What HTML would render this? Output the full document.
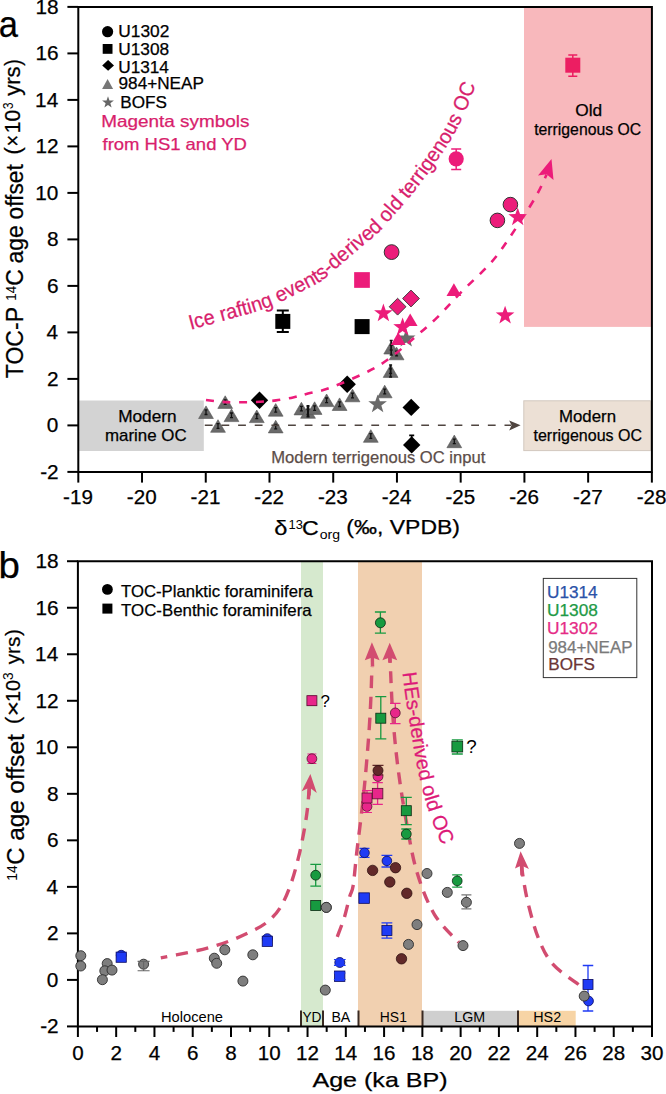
<!DOCTYPE html>
<html><head><meta charset="utf-8"><style>
html,body{margin:0;padding:0;background:#fff;overflow:hidden;}
svg{display:block;}
text{font-family:"Liberation Sans",sans-serif;stroke-width:0.25px;paint-order:stroke;}
</style></head><body>
<svg width="666" height="1094" viewBox="0 0 666 1094">
<rect width="666" height="1094" fill="#fff"/>
<rect x="524" y="6.9" width="127.9" height="320" fill="#F8B8BC"/>
<rect x="79.2" y="400.5" width="124.6" height="50.5" fill="#D3D3D3"/>
<rect x="523.8" y="400.8" width="126.7" height="49.8" fill="#ECE0D5" stroke="#D2C8BE" stroke-width="1"/>
<text x="271.23" y="462.5" font-size="16.5" fill="#5C4D48" textLength="214.11" lengthAdjust="spacingAndGlyphs" stroke="#5C4D48">Modern terrigenous OC input</text>
<polygon points="206,405.9 213.4,418.5 198.6,418.5" fill="#6a6a6a" stroke="#555" stroke-width="0.6"/>
<path d="M206,409.9V414.5M204.5,409.9H207.5M204.5,414.5H207.5" stroke="#111" stroke-width="1.3" fill="none"/>
<polygon points="225.2,395.8 232.6,408.4 217.8,408.4" fill="#6a6a6a" stroke="#555" stroke-width="0.6"/>
<path d="M225.2,399.8V404.4M223.7,399.8H226.7M223.7,404.4H226.7" stroke="#111" stroke-width="1.3" fill="none"/>
<polygon points="218,419.7 225.4,432.3 210.6,432.3" fill="#6a6a6a" stroke="#555" stroke-width="0.6"/>
<path d="M218,423.7V428.3M216.5,423.7H219.5M216.5,428.3H219.5" stroke="#111" stroke-width="1.3" fill="none"/>
<polygon points="231.5,409 238.9,421.6 224.1,421.6" fill="#6a6a6a" stroke="#555" stroke-width="0.6"/>
<path d="M231.5,413V417.6M230,413H233M230,417.6H233" stroke="#111" stroke-width="1.3" fill="none"/>
<polygon points="256.8,410 264.2,422.6 249.4,422.6" fill="#6a6a6a" stroke="#555" stroke-width="0.6"/>
<path d="M256.8,414V418.6M255.3,414H258.3M255.3,418.6H258.3" stroke="#111" stroke-width="1.3" fill="none"/>
<polygon points="275.7,403.6 283.1,416.2 268.3,416.2" fill="#6a6a6a" stroke="#555" stroke-width="0.6"/>
<path d="M275.7,407.6V412.2M274.2,407.6H277.2M274.2,412.2H277.2" stroke="#111" stroke-width="1.3" fill="none"/>
<polygon points="275.7,420.3 283.1,432.9 268.3,432.9" fill="#6a6a6a" stroke="#555" stroke-width="0.6"/>
<path d="M275.7,424.3V428.9M274.2,424.3H277.2M274.2,428.9H277.2" stroke="#111" stroke-width="1.3" fill="none"/>
<polygon points="301.4,402.3 308.8,414.9 294,414.9" fill="#6a6a6a" stroke="#555" stroke-width="0.6"/>
<path d="M301.4,406.3V410.9M299.9,406.3H302.9M299.9,410.9H302.9" stroke="#111" stroke-width="1.3" fill="none"/>
<polygon points="308,405.7 315.4,418.3 300.6,418.3" fill="#6a6a6a" stroke="#555" stroke-width="0.6"/>
<path d="M308,409.7V414.3M306.5,409.7H309.5M306.5,414.3H309.5" stroke="#111" stroke-width="1.3" fill="none"/>
<polygon points="314.6,401.8 322,414.4 307.2,414.4" fill="#6a6a6a" stroke="#555" stroke-width="0.6"/>
<path d="M314.6,405.8V410.4M313.1,405.8H316.1M313.1,410.4H316.1" stroke="#111" stroke-width="1.3" fill="none"/>
<polygon points="326.6,394 334,406.6 319.2,406.6" fill="#6a6a6a" stroke="#555" stroke-width="0.6"/>
<path d="M326.6,398V402.6M325.1,398H328.1M325.1,402.6H328.1" stroke="#111" stroke-width="1.3" fill="none"/>
<polygon points="339.6,397.9 347,410.5 332.2,410.5" fill="#6a6a6a" stroke="#555" stroke-width="0.6"/>
<path d="M339.6,401.9V406.5M338.1,401.9H341.1M338.1,406.5H341.1" stroke="#111" stroke-width="1.3" fill="none"/>
<polygon points="352.5,389.2 359.9,401.8 345.1,401.8" fill="#6a6a6a" stroke="#555" stroke-width="0.6"/>
<path d="M352.5,393.2V397.8M351,393.2H354M351,397.8H354" stroke="#111" stroke-width="1.3" fill="none"/>
<polygon points="370.8,429.7 378.2,442.3 363.4,442.3" fill="#6a6a6a" stroke="#555" stroke-width="0.6"/>
<path d="M370.8,433.7V438.3M369.3,433.7H372.3M369.3,438.3H372.3" stroke="#111" stroke-width="1.3" fill="none"/>
<polygon points="384.7,385.2 392.1,397.8 377.3,397.8" fill="#6a6a6a" stroke="#555" stroke-width="0.6"/>
<path d="M384.7,389.2V393.8M383.2,389.2H386.2M383.2,393.8H386.2" stroke="#111" stroke-width="1.3" fill="none"/>
<polygon points="390.6,364.8 398,377.4 383.2,377.4" fill="#6a6a6a" stroke="#555" stroke-width="0.6"/>
<path d="M390.6,368.8V373.4M389.1,368.8H392.1M389.1,373.4H392.1" stroke="#111" stroke-width="1.3" fill="none"/>
<polygon points="391.2,341.4 398.6,354 383.8,354" fill="#6a6a6a" stroke="#555" stroke-width="0.6"/>
<path d="M391.2,345.4V350M389.7,345.4H392.7M389.7,350H392.7" stroke="#111" stroke-width="1.3" fill="none"/>
<polygon points="396.6,347.2 404,359.8 389.2,359.8" fill="#6a6a6a" stroke="#555" stroke-width="0.6"/>
<path d="M396.6,351.2V355.8M395.1,351.2H398.1M395.1,355.8H398.1" stroke="#111" stroke-width="1.3" fill="none"/>
<polygon points="454.3,435.1 461.7,447.7 446.9,447.7" fill="#6a6a6a" stroke="#555" stroke-width="0.6"/>
<path d="M454.3,439.1V443.7M452.8,439.1H455.8M452.8,443.7H455.8" stroke="#111" stroke-width="1.3" fill="none"/>
<path d="M308,406V416.5M306.5,406H309.5M306.5,416.5H309.5" stroke="#111" stroke-width="2" fill="none"/>
<path d="M390.6,365V377M389.1,365H392.1M389.1,377H392.1" stroke="#111" stroke-width="1.6" fill="none"/>
<path d="M391.2,340.5V355M389.7,340.5H392.7M389.7,355H392.7" stroke="#111" stroke-width="1.6" fill="none"/>
<polygon points="406.2,328.8 408.5,335.43 415.52,335.57 409.93,339.81 411.96,346.53 406.2,342.52 400.44,346.53 402.47,339.81 396.88,335.57 403.9,335.43" fill="#6a6a6a" stroke="none" stroke-width="1"/>
<polygon points="377.6,394.5 379.9,401.13 386.92,401.27 381.33,405.51 383.36,412.23 377.6,408.22 371.84,412.23 373.87,405.51 368.28,401.27 375.3,401.13" fill="#6a6a6a" stroke="none" stroke-width="1"/>
<polygon points="259.5,391.6 268.2,400.3 259.5,409 250.8,400.3" fill="#000" stroke="none" stroke-width="1"/>
<polygon points="347.2,375.6 355.9,384.3 347.2,393 338.5,384.3" fill="#000" stroke="none" stroke-width="1"/>
<polygon points="411.2,398.7 419.9,407.4 411.2,416.1 402.5,407.4" fill="#000" stroke="none" stroke-width="1"/>
<polygon points="411.7,436.2 420.4,444.9 411.7,453.6 403,444.9" fill="#000" stroke="none" stroke-width="1"/>
<path d="M411.7,435.4V444.9M409.2,435.4H414.2M409.2,444.9H414.2" stroke="#000" stroke-width="1.6" fill="none"/>
<path d="M282.8,310.6V332M276.8,310.6H288.8M276.8,332H288.8" stroke="#000" stroke-width="2" fill="none"/>
<rect x="275.3" y="313.9" width="15" height="15" fill="#000" stroke="none" stroke-width="1"/>
<rect x="354.6" y="319.1" width="15" height="15" fill="#000" stroke="none" stroke-width="1"/>
<rect x="354.15" y="272.15" width="15.7" height="15.7" fill="#EC1C7A" stroke="none" stroke-width="1"/>
<path d="M572.8,55V76.2M568.3,55H577.3M568.3,76.2H577.3" stroke="#EC1E62" stroke-width="1.5" fill="none"/>
<rect x="565.3" y="57.7" width="15" height="15" fill="#EC1E62" stroke="none" stroke-width="1"/>
<circle cx="391.6" cy="252.1" r="7.4" fill="#EC1C7A" stroke="#333" stroke-width="1"/>
<path d="M456.2,148.9V169.5M451.2,148.9H461.2M451.2,169.5H461.2" stroke="#EC1C7A" stroke-width="1.5" fill="none"/>
<circle cx="456.2" cy="158.8" r="7.6" fill="#EC1C7A" stroke="none" stroke-width="1"/>
<circle cx="510.4" cy="204.6" r="7.3" fill="#EC1C7A" stroke="#333" stroke-width="1"/>
<circle cx="497.4" cy="220.4" r="7.3" fill="#EC1C7A" stroke="#333" stroke-width="1"/>
<polygon points="397.6,298.3 406,306.7 397.6,315.1 389.2,306.7" fill="#EC1C7A" stroke="#333" stroke-width="0.9"/>
<polygon points="411,290.1 419.4,298.5 411,306.9 402.6,298.5" fill="#EC1C7A" stroke="#333" stroke-width="0.9"/>
<polygon points="453.9,283.3 461.3,295.9 446.5,295.9" fill="#EC1C7A" stroke="none" stroke-width="1"/>
<polygon points="410.2,313.4 417.6,326 402.8,326" fill="#EC1C7A" stroke="none" stroke-width="1"/>
<polygon points="398.2,332.3 405.6,344.9 390.8,344.9" fill="#EC1C7A" stroke="none" stroke-width="1"/>
<polygon points="383.4,303.5 385.7,310.13 392.72,310.27 387.13,314.51 389.16,321.23 383.4,317.22 377.64,321.23 379.67,314.51 374.08,310.27 381.1,310.13" fill="#EC1C7A" stroke="none" stroke-width="1"/>
<polygon points="402.6,317.4 404.9,324.03 411.92,324.17 406.33,328.41 408.36,335.13 402.6,331.12 396.84,335.13 398.87,328.41 393.28,324.17 400.3,324.03" fill="#EC1C7A" stroke="none" stroke-width="1"/>
<polygon points="517.7,207.4 520,214.03 527.02,214.17 521.43,218.41 523.46,225.13 517.7,221.12 511.94,225.13 513.97,218.41 508.38,214.17 515.4,214.03" fill="#EC1C7A" stroke="none" stroke-width="1"/>
<polygon points="505.1,305.7 507.4,312.33 514.42,312.47 508.83,316.71 510.86,323.43 505.1,319.42 499.34,323.43 501.37,316.71 495.78,312.47 502.8,312.33" fill="#EC1C7A" stroke="none" stroke-width="1"/>
<path d="M204.8,425.3H511" stroke="#4f4540" stroke-width="1.6" stroke-dasharray="7.8,8.85" fill="none"/>
<polygon points="520.6,425.3 509.2,420.6 511.5,425.3 509.2,430.4" fill="#4f4540"/>
<path d="M206,400 C208.67,400.3 216.33,401.42 222,401.8 C227.67,402.18 233.67,402.3 240,402.3 C246.33,402.3 254,402.12 260,401.8 C266,401.48 270.5,401.12 276,400.4 C281.5,399.68 287.67,398.65 293,397.5 C298.33,396.35 301.9,395.08 308,393.5 C314.1,391.92 319.6,391.67 329.6,388 C339.6,384.33 357.93,376.5 368,371.5 C378.07,366.5 382.33,363.58 390,358 C397.67,352.42 406.17,344.73 414,338 C421.83,331.27 429.17,325.2 437,317.6 C444.83,310 451.88,301.7 461,292.4 C470.12,283.1 483.2,271.53 491.7,261.8 C500.2,252.07 504.73,244.72 512,234 C519.27,223.28 529.53,207.42 535.3,197.5 C541.07,187.58 544.72,178.33 546.6,174.5" stroke="#EC1C7A" stroke-width="2.6" stroke-dasharray="8,8.63" fill="none"/>
<polygon points="551.5,159 538,175.6 546.6,174.2 553.5,180.1" fill="#EC1C7A"/>
<path d="M78.3,6.9H651.9V471.9H78.3Z" fill="none" stroke="#000" stroke-width="2"/>
<line x1="67.4" y1="471.9" x2="78.3" y2="471.9" stroke="#000" stroke-width="2"/>
<line x1="67.4" y1="425.4" x2="78.3" y2="425.4" stroke="#000" stroke-width="2"/>
<line x1="67.4" y1="378.9" x2="78.3" y2="378.9" stroke="#000" stroke-width="2"/>
<line x1="67.4" y1="332.4" x2="78.3" y2="332.4" stroke="#000" stroke-width="2"/>
<line x1="67.4" y1="285.9" x2="78.3" y2="285.9" stroke="#000" stroke-width="2"/>
<line x1="67.4" y1="239.4" x2="78.3" y2="239.4" stroke="#000" stroke-width="2"/>
<line x1="67.4" y1="192.9" x2="78.3" y2="192.9" stroke="#000" stroke-width="2"/>
<line x1="67.4" y1="146.4" x2="78.3" y2="146.4" stroke="#000" stroke-width="2"/>
<line x1="67.4" y1="99.9" x2="78.3" y2="99.9" stroke="#000" stroke-width="2"/>
<line x1="67.4" y1="53.4" x2="78.3" y2="53.4" stroke="#000" stroke-width="2"/>
<line x1="67.4" y1="6.9" x2="78.3" y2="6.9" stroke="#000" stroke-width="2"/>
<line x1="78.3" y1="471.9" x2="78.3" y2="482.6" stroke="#000" stroke-width="2"/>
<line x1="142.03" y1="471.9" x2="142.03" y2="482.6" stroke="#000" stroke-width="2"/>
<line x1="205.76" y1="471.9" x2="205.76" y2="482.6" stroke="#000" stroke-width="2"/>
<line x1="269.49" y1="471.9" x2="269.49" y2="482.6" stroke="#000" stroke-width="2"/>
<line x1="333.22" y1="471.9" x2="333.22" y2="482.6" stroke="#000" stroke-width="2"/>
<line x1="396.95" y1="471.9" x2="396.95" y2="482.6" stroke="#000" stroke-width="2"/>
<line x1="460.68" y1="471.9" x2="460.68" y2="482.6" stroke="#000" stroke-width="2"/>
<line x1="524.41" y1="471.9" x2="524.41" y2="482.6" stroke="#000" stroke-width="2"/>
<line x1="588.14" y1="471.9" x2="588.14" y2="482.6" stroke="#000" stroke-width="2"/>
<line x1="651.87" y1="471.9" x2="651.87" y2="482.6" stroke="#000" stroke-width="2"/>
<text x="40.18" y="478.9" font-size="20" textLength="18.49" lengthAdjust="spacingAndGlyphs" stroke="#000">-2</text>
<text x="46.84" y="432.4" font-size="20" textLength="11.57" lengthAdjust="spacingAndGlyphs" stroke="#000">0</text>
<text x="47.1" y="385.9" font-size="20" textLength="11.57" lengthAdjust="spacingAndGlyphs" stroke="#000">2</text>
<text x="46.63" y="339.4" font-size="20" textLength="11.57" lengthAdjust="spacingAndGlyphs" stroke="#000">4</text>
<text x="46.94" y="292.9" font-size="20" textLength="11.57" lengthAdjust="spacingAndGlyphs" stroke="#000">6</text>
<text x="46.94" y="246.4" font-size="20" textLength="11.57" lengthAdjust="spacingAndGlyphs" stroke="#000">8</text>
<text x="35.29" y="199.9" font-size="20" textLength="23.14" lengthAdjust="spacingAndGlyphs" stroke="#000">10</text>
<text x="35.55" y="153.4" font-size="20" textLength="23.14" lengthAdjust="spacingAndGlyphs" stroke="#000">12</text>
<text x="35.08" y="106.9" font-size="20" textLength="23.14" lengthAdjust="spacingAndGlyphs" stroke="#000">14</text>
<text x="35.4" y="60.4" font-size="20" textLength="23.14" lengthAdjust="spacingAndGlyphs" stroke="#000">16</text>
<text x="35.4" y="13.9" font-size="20" textLength="23.14" lengthAdjust="spacingAndGlyphs" stroke="#000">18</text>
<text x="63.11" y="504.4" font-size="20" textLength="29.77" lengthAdjust="spacingAndGlyphs" stroke="#000">-19</text>
<text x="126.84" y="504.4" font-size="20" textLength="29.77" lengthAdjust="spacingAndGlyphs" stroke="#000">-20</text>
<text x="190.57" y="504.4" font-size="20" textLength="29.77" lengthAdjust="spacingAndGlyphs" stroke="#000">-21</text>
<text x="254.3" y="504.4" font-size="20" textLength="29.77" lengthAdjust="spacingAndGlyphs" stroke="#000">-22</text>
<text x="318.03" y="504.4" font-size="20" textLength="29.77" lengthAdjust="spacingAndGlyphs" stroke="#000">-23</text>
<text x="381.76" y="504.4" font-size="20" textLength="29.77" lengthAdjust="spacingAndGlyphs" stroke="#000">-24</text>
<text x="445.49" y="504.4" font-size="20" textLength="29.77" lengthAdjust="spacingAndGlyphs" stroke="#000">-25</text>
<text x="509.22" y="504.4" font-size="20" textLength="29.77" lengthAdjust="spacingAndGlyphs" stroke="#000">-26</text>
<text x="572.95" y="504.4" font-size="20" textLength="29.77" lengthAdjust="spacingAndGlyphs" stroke="#000">-27</text>
<text x="636.68" y="504.4" font-size="20" textLength="29.77" lengthAdjust="spacingAndGlyphs" stroke="#000">-28</text>
<text x="-1.27" y="36.6" font-size="37.8" fill="#000" textLength="19.22" lengthAdjust="spacingAndGlyphs" stroke="#000">a</text>
<text transform="translate(22.9,378.22) rotate(-90)" font-size="23" fill="#000" textLength="71.24" lengthAdjust="spacingAndGlyphs" stroke="#000">TOC-P</text>
<text transform="translate(16.1,300.69) rotate(-90)" font-size="14" fill="#000" textLength="14.68" lengthAdjust="spacingAndGlyphs">14</text>
<text transform="translate(22.9,285.75) rotate(-90)" font-size="23" fill="#000" textLength="16.6" lengthAdjust="spacingAndGlyphs" stroke="#000">C</text>
<text transform="translate(22.9,263.47) rotate(-90)" font-size="23" fill="#000" textLength="38.17" lengthAdjust="spacingAndGlyphs" stroke="#000">age</text>
<text transform="translate(22.9,219.47) rotate(-90)" font-size="23" fill="#000" textLength="55.25" lengthAdjust="spacingAndGlyphs" stroke="#000">offset</text>
<text transform="translate(19.9,154.64) rotate(-90)" font-size="21.5" fill="#000" textLength="7.67" lengthAdjust="spacingAndGlyphs" stroke="#000">(</text>
<text transform="translate(19.9,146.48) rotate(-90)" font-size="21.5" fill="#000" textLength="11.55" lengthAdjust="spacingAndGlyphs" stroke="#000">×</text>
<text transform="translate(19.9,133.17) rotate(-90)" font-size="21.5" fill="#000" textLength="23.31" lengthAdjust="spacingAndGlyphs" stroke="#000">10</text>
<text transform="translate(13.2,109.37) rotate(-90)" font-size="14.5" fill="#000" textLength="6.91" lengthAdjust="spacingAndGlyphs">3</text>
<text transform="translate(19.9,95.86) rotate(-90)" font-size="21.5" fill="#000" textLength="29.54" lengthAdjust="spacingAndGlyphs" stroke="#000">yrs</text>
<text transform="translate(19.9,65.74) rotate(-90)" font-size="21.5" fill="#000" textLength="6.41" lengthAdjust="spacingAndGlyphs" stroke="#000">)</text>
<text x="274.29" y="534.6" font-size="21" fill="#000" textLength="13.19" lengthAdjust="spacingAndGlyphs" stroke="#000">δ</text>
<text x="288.53" y="529.2" font-size="12.5" fill="#000" textLength="14.35" lengthAdjust="spacingAndGlyphs">13</text>
<text x="302.14" y="534.6" font-size="21" fill="#000" textLength="16.72" lengthAdjust="spacingAndGlyphs" stroke="#000">C</text>
<text x="319.7" y="538.8" font-size="13" fill="#000" textLength="20.28" lengthAdjust="spacingAndGlyphs">org</text>
<text x="346.36" y="534.4" font-size="20.5" fill="#000" textLength="113.61" lengthAdjust="spacingAndGlyphs" stroke="#000">(‰, VPDB)</text>
<circle cx="107.6" cy="31.7" r="5.6" fill="#000" stroke="none" stroke-width="1"/>
<rect x="102.7" y="44" width="9.8" height="9.8" fill="#000" stroke="none" stroke-width="1"/>
<polygon points="108.1,60.1 114,65.4 108.1,70.7 102.2,65.4" fill="#000" stroke="none" stroke-width="1"/>
<polygon points="107.6,79 113.1,89 102.1,89" fill="#777" stroke="none" stroke-width="1"/>
<polygon points="108,96.2 109.46,100.39 113.9,100.48 110.36,103.17 111.64,107.42 108,104.88 104.36,107.42 105.64,103.17 102.1,100.48 106.54,100.39" fill="#666" stroke="none" stroke-width="1"/>
<text x="118.26" y="37.4" font-size="16" fill="#000" textLength="51.04" lengthAdjust="spacingAndGlyphs" stroke="#000">U1302</text>
<text x="118.26" y="55.2" font-size="16" fill="#000" textLength="50.91" lengthAdjust="spacingAndGlyphs" stroke="#000">U1308</text>
<text x="118.27" y="72.7" font-size="16" fill="#000" textLength="50.64" lengthAdjust="spacingAndGlyphs" stroke="#000">U1314</text>
<text x="118.59" y="89.2" font-size="16" fill="#000" textLength="85.33" lengthAdjust="spacingAndGlyphs" stroke="#000">984+NEAP</text>
<text x="120.39" y="107.8" font-size="16" fill="#000" textLength="46.58" lengthAdjust="spacingAndGlyphs" stroke="#000">BOFS</text>
<text x="101.24" y="126.9" font-size="16.5" fill="#D81E6C" textLength="148.21" lengthAdjust="spacingAndGlyphs" stroke="#D81E6C">Magenta symbols</text>
<text x="102.52" y="149.6" font-size="16.5" fill="#D81E6C" textLength="144.33" lengthAdjust="spacingAndGlyphs" stroke="#D81E6C">from HS1 and YD</text>
<text x="118.18" y="421.5" font-size="16.2" fill="#000" textLength="58.41" lengthAdjust="spacingAndGlyphs" stroke="#000">Modern</text>
<text x="104.96" y="441.1" font-size="16.2" fill="#000" textLength="81.67" lengthAdjust="spacingAndGlyphs" stroke="#000">marine OC</text>
<text x="559.01" y="421.5" font-size="16.2" fill="#000" textLength="57.05" lengthAdjust="spacingAndGlyphs" stroke="#000">Modern</text>
<text x="533.46" y="441.1" font-size="16.2" fill="#000" textLength="108.62" lengthAdjust="spacingAndGlyphs" stroke="#000">terrigenous OC</text>
<text x="575.28" y="116" font-size="16.2" fill="#000" textLength="26.92" lengthAdjust="spacingAndGlyphs" stroke="#000">Old</text>
<text x="534.16" y="134.5" font-size="16.2" fill="#000" textLength="107" lengthAdjust="spacingAndGlyphs" stroke="#000">terrigenous OC</text>
<path id="ca" d="M189.5,330 C196.35,328.13 217.73,322.47 230.6,318.8 C243.47,315.13 255.38,312.3 266.7,308 C278.02,303.7 289.53,297.42 298.5,293 C307.47,288.58 313.5,286.17 320.5,281.5 C327.5,276.83 333.2,271.17 340.5,265 C347.8,258.83 357.75,250.12 364.3,244.5 C370.85,238.88 374.6,236.47 379.8,231.3 C385,226.13 390.22,219.55 395.5,213.5 C400.78,207.45 405.25,202.83 411.5,195 C417.75,187.17 426.5,175.58 433,166.5 C439.5,157.42 445.87,148 450.5,140.5 C455.13,133 457.97,127.17 460.8,121.5 C463.63,115.83 465.2,112 467.5,106.5 C469.8,101 472.52,93.92 474.6,88.5 C476.68,83.08 479.1,76.42 480,74" fill="none"/>
<text font-size="20.6" fill="#D81E6C" stroke="#D81E6C"><textPath href="#ca" startOffset="1.3" textLength="393" lengthAdjust="spacingAndGlyphs">Ice rafting events-derived old terrigenous OC</textPath></text>
<rect x="301" y="561.2" width="22" height="465.2" fill="#D6E9CE"/>
<rect x="358" y="561.2" width="64" height="465.2" fill="#F1D0B0"/>
<rect x="422" y="1010.8" width="96" height="15.5" fill="#CFCFCF"/>
<rect x="518" y="1010.8" width="57.7" height="15.5" fill="#F7D4A5"/>
<line x1="301" y1="1010.5" x2="301" y2="1026.5" stroke="#3a2a22" stroke-width="2"/>
<line x1="323" y1="1010.5" x2="323" y2="1026.5" stroke="#3a2a22" stroke-width="2"/>
<line x1="358.5" y1="1010.5" x2="358.5" y2="1026.5" stroke="#3a2a22" stroke-width="2"/>
<line x1="422.5" y1="1010.5" x2="422.5" y2="1026.5" stroke="#3a2a22" stroke-width="2"/>
<line x1="518" y1="1010.5" x2="518" y2="1026.5" stroke="#3a2a22" stroke-width="2"/>
<path d="M77.9,561.2H652V1026.4H77.9Z" fill="none" stroke="#000" stroke-width="2"/>
<line x1="67" y1="1026.42" x2="77.9" y2="1026.42" stroke="#000" stroke-width="2"/>
<line x1="67" y1="979.9" x2="77.9" y2="979.9" stroke="#000" stroke-width="2"/>
<line x1="67" y1="933.38" x2="77.9" y2="933.38" stroke="#000" stroke-width="2"/>
<line x1="67" y1="886.86" x2="77.9" y2="886.86" stroke="#000" stroke-width="2"/>
<line x1="67" y1="840.34" x2="77.9" y2="840.34" stroke="#000" stroke-width="2"/>
<line x1="67" y1="793.82" x2="77.9" y2="793.82" stroke="#000" stroke-width="2"/>
<line x1="67" y1="747.3" x2="77.9" y2="747.3" stroke="#000" stroke-width="2"/>
<line x1="67" y1="700.78" x2="77.9" y2="700.78" stroke="#000" stroke-width="2"/>
<line x1="67" y1="654.26" x2="77.9" y2="654.26" stroke="#000" stroke-width="2"/>
<line x1="67" y1="607.74" x2="77.9" y2="607.74" stroke="#000" stroke-width="2"/>
<line x1="67" y1="561.22" x2="77.9" y2="561.22" stroke="#000" stroke-width="2"/>
<line x1="77.9" y1="1026.4" x2="77.9" y2="1037" stroke="#000" stroke-width="2"/>
<line x1="97.04" y1="1026.4" x2="97.04" y2="1031.9" stroke="#000" stroke-width="2"/>
<line x1="116.17" y1="1026.4" x2="116.17" y2="1037" stroke="#000" stroke-width="2"/>
<line x1="135.31" y1="1026.4" x2="135.31" y2="1031.9" stroke="#000" stroke-width="2"/>
<line x1="154.45" y1="1026.4" x2="154.45" y2="1037" stroke="#000" stroke-width="2"/>
<line x1="173.59" y1="1026.4" x2="173.59" y2="1031.9" stroke="#000" stroke-width="2"/>
<line x1="192.72" y1="1026.4" x2="192.72" y2="1037" stroke="#000" stroke-width="2"/>
<line x1="211.86" y1="1026.4" x2="211.86" y2="1031.9" stroke="#000" stroke-width="2"/>
<line x1="231" y1="1026.4" x2="231" y2="1037" stroke="#000" stroke-width="2"/>
<line x1="250.13" y1="1026.4" x2="250.13" y2="1031.9" stroke="#000" stroke-width="2"/>
<line x1="269.27" y1="1026.4" x2="269.27" y2="1037" stroke="#000" stroke-width="2"/>
<line x1="288.41" y1="1026.4" x2="288.41" y2="1031.9" stroke="#000" stroke-width="2"/>
<line x1="307.54" y1="1026.4" x2="307.54" y2="1037" stroke="#000" stroke-width="2"/>
<line x1="326.68" y1="1026.4" x2="326.68" y2="1031.9" stroke="#000" stroke-width="2"/>
<line x1="345.82" y1="1026.4" x2="345.82" y2="1037" stroke="#000" stroke-width="2"/>
<line x1="364.96" y1="1026.4" x2="364.96" y2="1031.9" stroke="#000" stroke-width="2"/>
<line x1="384.09" y1="1026.4" x2="384.09" y2="1037" stroke="#000" stroke-width="2"/>
<line x1="403.23" y1="1026.4" x2="403.23" y2="1031.9" stroke="#000" stroke-width="2"/>
<line x1="422.37" y1="1026.4" x2="422.37" y2="1037" stroke="#000" stroke-width="2"/>
<line x1="441.5" y1="1026.4" x2="441.5" y2="1031.9" stroke="#000" stroke-width="2"/>
<line x1="460.64" y1="1026.4" x2="460.64" y2="1037" stroke="#000" stroke-width="2"/>
<line x1="479.78" y1="1026.4" x2="479.78" y2="1031.9" stroke="#000" stroke-width="2"/>
<line x1="498.91" y1="1026.4" x2="498.91" y2="1037" stroke="#000" stroke-width="2"/>
<line x1="518.05" y1="1026.4" x2="518.05" y2="1031.9" stroke="#000" stroke-width="2"/>
<line x1="537.19" y1="1026.4" x2="537.19" y2="1037" stroke="#000" stroke-width="2"/>
<line x1="556.33" y1="1026.4" x2="556.33" y2="1031.9" stroke="#000" stroke-width="2"/>
<line x1="575.46" y1="1026.4" x2="575.46" y2="1037" stroke="#000" stroke-width="2"/>
<line x1="594.6" y1="1026.4" x2="594.6" y2="1031.9" stroke="#000" stroke-width="2"/>
<line x1="613.74" y1="1026.4" x2="613.74" y2="1037" stroke="#000" stroke-width="2"/>
<line x1="632.87" y1="1026.4" x2="632.87" y2="1031.9" stroke="#000" stroke-width="2"/>
<line x1="652.01" y1="1026.4" x2="652.01" y2="1037" stroke="#000" stroke-width="2"/>
<circle cx="121.2" cy="955.2" r="4.9" fill="#1F3BF5" stroke="#0a0a60" stroke-width="0.8"/>
<rect x="116.1" y="952.1" width="10.2" height="10.2" fill="#1F3BF5" stroke="#0a0a60" stroke-width="0.8"/>
<circle cx="267.3" cy="938.6" r="4.9" fill="#1F3BF5" stroke="#0a0a60" stroke-width="0.8"/>
<rect x="262.2" y="936.2" width="10.2" height="10.2" fill="#1F3BF5" stroke="#0a0a60" stroke-width="0.8"/>
<circle cx="339.8" cy="962.5" r="5" fill="#1F3BF5" stroke="#0a0a60" stroke-width="0.8"/>
<path d="M339.8,959.5V965.4M333.95,959.5H345.65M333.95,965.4H345.65" stroke="#1F3BF5" stroke-width="1.2" fill="none"/>
<rect x="334.5" y="971" width="10.4" height="10.4" fill="#1F3BF5" stroke="#0a0a60" stroke-width="0.8"/>
<path d="M339.7,973V979.5M333.85,973H345.55M333.85,979.5H345.55" stroke="#1F3BF5" stroke-width="1.2" fill="none"/>
<path d="M364.5,848.4V857.4M359.5,848.4H369.5M359.5,857.4H369.5" stroke="#1F3BF5" stroke-width="1.3" fill="none"/>
<circle cx="364.5" cy="852.8" r="4.8" fill="#1F3BF5" stroke="#0a0a60" stroke-width="0.8"/>
<path d="M386.9,855.4V867M381.5,855.4H392.3M381.5,867H392.3" stroke="#1F3BF5" stroke-width="1.3" fill="none"/>
<circle cx="386.9" cy="860.9" r="4.8" fill="#1F3BF5" stroke="#0a0a60" stroke-width="0.8"/>
<rect x="358.85" y="892.85" width="10.5" height="10.5" fill="#1F3BF5" stroke="#0a0a60" stroke-width="0.8"/>
<path d="M386.9,922.8V938.2M381.5,922.8H392.3M381.5,938.2H392.3" stroke="#1F3BF5" stroke-width="1.3" fill="none"/>
<rect x="381.9" y="925.6" width="10" height="10" fill="#1F3BF5" stroke="#0a0a60" stroke-width="0.8"/>
<path d="M588,965.5V1011M582.75,965.5H593.25M582.75,1011H593.25" stroke="#1F3BF5" stroke-width="1.3" fill="none"/>
<rect x="583" y="979.4" width="10" height="10" fill="#1F3BF5" stroke="#0a0a60" stroke-width="0.8"/>
<circle cx="588.5" cy="1001" r="4.9" fill="#1F3BF5" stroke="#0a0a60" stroke-width="0.8"/>
<path d="M160.8,957.9 C165.28,957.02 179.75,954.28 187.7,952.6 C195.65,950.92 201.7,949.67 208.5,947.8 C215.3,945.93 221.92,943.87 228.5,941.4 C235.08,938.93 241.7,936.1 248,933 C254.3,929.9 260.97,926.97 266.3,922.8 C271.63,918.63 275.97,914.3 280,908 C284.03,901.7 287.47,893.22 290.5,885 C293.53,876.78 295.98,867.47 298.2,858.7 C300.42,849.93 302.27,840.63 303.8,832.4 C305.33,824.17 306.5,816.7 307.4,809.3 C308.3,801.9 308.9,791.55 309.2,788" stroke="#D24C70" stroke-width="3.4" stroke-dasharray="12.2,8.7" stroke-dashoffset="5.5" fill="none"/>
<polygon points="310.4,774 301.7,791.2 309.5,787.5 316.8,792.9" fill="#D24C70"/>
<line x1="309.5" y1="785.5" x2="308.97" y2="795.48" stroke="#D24C70" stroke-width="3.4"/>
<path d="M337.3,936.8 C338.5,933.48 342.45,923.57 344.5,916.9 C346.55,910.23 348.15,902.05 349.6,896.8 C351.05,891.55 352,892.87 353.2,885.4 C354.4,877.93 355.1,866.8 356.8,852 C358.5,837.2 361.47,815.25 363.4,796.6 C365.33,777.95 367.17,756.2 368.4,740.1 C369.63,724 370.22,712.2 370.8,700 C371.38,687.8 371.72,672.42 371.9,666.9" stroke="#D24C70" stroke-width="3.4" stroke-dasharray="12.5,8.5" stroke-dashoffset="0" fill="none"/>
<polygon points="371.9,642.2 364.8,660.3 372.3,657.5 379.6,660.3" fill="#D24C70"/>
<line x1="372.3" y1="655.5" x2="372.54" y2="666.5" stroke="#D24C70" stroke-width="3.4"/>
<path d="M458.8,942.4 C454.75,937.77 441.43,926.17 434.5,914.6 C427.57,903.03 421.82,888.03 417.2,873 C412.58,857.97 409.98,841.77 406.8,824.4 C403.62,807.03 400.42,786.73 398.1,768.8 C395.78,750.87 394.2,734.15 392.9,716.8 C391.6,699.45 390.82,675 390.3,664.7 C389.78,654.4 389.88,656.62 389.8,655" stroke="#D24C70" stroke-width="3.4" stroke-dasharray="12,8.3" stroke-dashoffset="10.3" fill="none"/>
<polygon points="389.7,642.7 382.4,660.3 389.8,657.5 397.2,660.3" fill="#D24C70"/>
<line x1="389.8" y1="655.5" x2="389.83" y2="662.5" stroke="#D24C70" stroke-width="3.4"/>
<path d="M578.6,984.5 C574.38,981.2 559.92,972.2 553.3,964.7 C546.68,957.2 543.1,949.72 538.9,939.5 C534.7,929.28 530.8,914.22 528.1,903.4 C525.4,892.58 523.75,881.17 522.7,874.6 C521.65,868.03 521.95,865.77 521.8,864" stroke="#D24C70" stroke-width="3.4" stroke-dasharray="12.4,8.65" stroke-dashoffset="0" fill="none"/>
<polygon points="520.6,851.3 515,868.6 521.4,865.5 528.9,869" fill="#D24C70"/>
<line x1="521.4" y1="863.5" x2="521.96" y2="875.48" stroke="#D24C70" stroke-width="3.4"/>
<circle cx="80.8" cy="955.7" r="5" fill="#7e7e7e" stroke="#2e2e2e" stroke-width="0.9"/>
<circle cx="80.8" cy="966" r="5" fill="#7e7e7e" stroke="#2e2e2e" stroke-width="0.9"/>
<circle cx="107.2" cy="963.6" r="5" fill="#7e7e7e" stroke="#2e2e2e" stroke-width="0.9"/>
<circle cx="104.8" cy="970.8" r="5" fill="#7e7e7e" stroke="#2e2e2e" stroke-width="0.9"/>
<circle cx="112" cy="970.1" r="5" fill="#7e7e7e" stroke="#2e2e2e" stroke-width="0.9"/>
<circle cx="102.4" cy="979.7" r="5" fill="#7e7e7e" stroke="#2e2e2e" stroke-width="0.9"/>
<circle cx="214.3" cy="958.2" r="5" fill="#7e7e7e" stroke="#2e2e2e" stroke-width="0.9"/>
<circle cx="216.7" cy="963.3" r="5" fill="#7e7e7e" stroke="#2e2e2e" stroke-width="0.9"/>
<circle cx="224.8" cy="949.8" r="5" fill="#7e7e7e" stroke="#2e2e2e" stroke-width="0.9"/>
<circle cx="252.8" cy="954.8" r="5" fill="#7e7e7e" stroke="#2e2e2e" stroke-width="0.9"/>
<circle cx="242.9" cy="981.1" r="5" fill="#7e7e7e" stroke="#2e2e2e" stroke-width="0.9"/>
<circle cx="326.3" cy="907.4" r="5" fill="#7e7e7e" stroke="#2e2e2e" stroke-width="0.9"/>
<circle cx="325.3" cy="990.1" r="5" fill="#7e7e7e" stroke="#2e2e2e" stroke-width="0.9"/>
<circle cx="427" cy="873.5" r="5" fill="#7e7e7e" stroke="#2e2e2e" stroke-width="0.9"/>
<circle cx="417" cy="924.6" r="5" fill="#7e7e7e" stroke="#2e2e2e" stroke-width="0.9"/>
<circle cx="408.5" cy="944.4" r="5" fill="#7e7e7e" stroke="#2e2e2e" stroke-width="0.9"/>
<circle cx="463" cy="945.6" r="5" fill="#7e7e7e" stroke="#2e2e2e" stroke-width="0.9"/>
<circle cx="447.3" cy="892.4" r="5" fill="#7e7e7e" stroke="#2e2e2e" stroke-width="0.9"/>
<circle cx="519.5" cy="843.4" r="5" fill="#7e7e7e" stroke="#2e2e2e" stroke-width="0.9"/>
<circle cx="584.2" cy="996.1" r="5" fill="#7e7e7e" stroke="#2e2e2e" stroke-width="0.9"/>
<circle cx="143.6" cy="964.2" r="5" fill="#7e7e7e" stroke="#2e2e2e" stroke-width="0.9"/>
<path d="M143.6,961.4V970.8M137.6,961.4H149.6M137.6,970.8H149.6" stroke="#666" stroke-width="1.1" fill="none"/>
<path d="M466.4,894.8V908.8M461.4,894.8H471.4M461.4,908.8H471.4" stroke="#777" stroke-width="1.3" fill="none"/>
<circle cx="466.4" cy="902.3" r="5" fill="#7e7e7e" stroke="#2e2e2e" stroke-width="0.9"/>
<path d="M315.7,864.4V886.2M310.35,864.4H321.05M310.35,886.2H321.05" stroke="#179A40" stroke-width="1.3" fill="none"/>
<circle cx="315.7" cy="875.2" r="4.9" fill="#179A40" stroke="#0a2a12" stroke-width="0.8"/>
<rect x="310.7" y="900.5" width="10" height="10" fill="#179A40" stroke="#0a2a12" stroke-width="0.8"/>
<circle cx="326.3" cy="907.4" r="5" fill="#7e7e7e" stroke="#2e2e2e" stroke-width="0.9"/>
<path d="M380.4,612V633.2M374.9,612H385.9M374.9,633.2H385.9" stroke="#179A40" stroke-width="1.3" fill="none"/>
<circle cx="380.4" cy="622.8" r="5" fill="#179A40" stroke="#0a2a12" stroke-width="0.8"/>
<path d="M380.8,696.6V738.9M375.3,696.6H386.3M375.3,738.9H386.3" stroke="#179A40" stroke-width="1.3" fill="none"/>
<rect x="375.8" y="713.2" width="10" height="10" fill="#179A40" stroke="#0a2a12" stroke-width="0.8"/>
<path d="M406.3,797.3V824.7M400.8,797.3H411.8M400.8,824.7H411.8" stroke="#179A40" stroke-width="1.3" fill="none"/>
<rect x="401.3" y="805.7" width="10" height="10" fill="#179A40" stroke="#0a2a12" stroke-width="0.8"/>
<path d="M406.3,829V839M401.3,829H411.3M401.3,839H411.3" stroke="#179A40" stroke-width="1.3" fill="none"/>
<circle cx="406.3" cy="834" r="4.9" fill="#179A40" stroke="#0a2a12" stroke-width="0.8"/>
<path d="M457.2,874.9V887.1M452.2,874.9H462.2M452.2,887.1H462.2" stroke="#179A40" stroke-width="1.3" fill="none"/>
<circle cx="457.2" cy="880.9" r="4.9" fill="#179A40" stroke="#0a2a12" stroke-width="0.8"/>
<path d="M457.3,739.9V754M451.8,739.9H462.8M451.8,754H462.8" stroke="#179A40" stroke-width="1.3" fill="none"/>
<rect x="451.9" y="741.2" width="10.8" height="10.8" fill="#179A40" stroke="#0a2a12" stroke-width="0.8"/>
<path d="M311.9,696V705.5M307.4,696H316.4M307.4,705.5H316.4" stroke="#E8268A" stroke-width="1.2" fill="none"/>
<rect x="306.9" y="695.7" width="10" height="10" fill="#E8268A" stroke="#551030" stroke-width="0.8"/>
<path d="M311.9,754V763.5M307.4,754H316.4M307.4,763.5H316.4" stroke="#E8268A" stroke-width="1.2" fill="none"/>
<circle cx="311.9" cy="758.7" r="4.9" fill="#E8268A" stroke="#551030" stroke-width="0.8"/>
<path d="M395.3,703.3V723.7M390.05,703.3H400.55M390.05,723.7H400.55" stroke="#E8268A" stroke-width="1.3" fill="none"/>
<circle cx="395.3" cy="712.9" r="4.9" fill="#E8268A" stroke="#551030" stroke-width="0.8"/>
<circle cx="378" cy="776.5" r="4.9" fill="#E8268A" stroke="#551030" stroke-width="0.8"/>
<path d="M377.6,782.6V804.4M372.35,782.6H382.85M372.35,804.4H382.85" stroke="#E8268A" stroke-width="1.3" fill="none"/>
<rect x="372.35" y="788.35" width="10.5" height="10.5" fill="#E8268A" stroke="#551030" stroke-width="0.8"/>
<circle cx="367" cy="806.5" r="4.9" fill="#E8268A" stroke="#551030" stroke-width="0.8"/>
<path d="M367,790.7V812.5M362,790.7H372M362,812.5H372" stroke="#E8268A" stroke-width="1.2" fill="none"/>
<rect x="362" y="793" width="10" height="10" fill="#E8268A" stroke="#551030" stroke-width="0.8"/>
<path d="M378,765.3V775M372.5,765.3H383.5M372.5,775H383.5" stroke="#622929" stroke-width="1.2" fill="none"/>
<circle cx="378" cy="770.5" r="5" fill="#622929" stroke="#301212" stroke-width="0.8"/>
<circle cx="372.6" cy="870.4" r="5.2" fill="#622929" stroke="#301212" stroke-width="0.8"/>
<circle cx="395.5" cy="867.7" r="5.2" fill="#622929" stroke="#301212" stroke-width="0.8"/>
<circle cx="389.8" cy="882" r="5.2" fill="#622929" stroke="#301212" stroke-width="0.8"/>
<circle cx="406.8" cy="893.3" r="5.2" fill="#622929" stroke="#301212" stroke-width="0.8"/>
<circle cx="401.5" cy="958.8" r="5.2" fill="#622929" stroke="#301212" stroke-width="0.8"/>
<text x="40.18" y="1033.42" font-size="20" textLength="18.49" lengthAdjust="spacingAndGlyphs" stroke="#000">-2</text>
<text x="46.84" y="986.9" font-size="20" textLength="11.57" lengthAdjust="spacingAndGlyphs" stroke="#000">0</text>
<text x="47.1" y="940.38" font-size="20" textLength="11.57" lengthAdjust="spacingAndGlyphs" stroke="#000">2</text>
<text x="46.63" y="893.86" font-size="20" textLength="11.57" lengthAdjust="spacingAndGlyphs" stroke="#000">4</text>
<text x="46.94" y="847.34" font-size="20" textLength="11.57" lengthAdjust="spacingAndGlyphs" stroke="#000">6</text>
<text x="46.94" y="800.82" font-size="20" textLength="11.57" lengthAdjust="spacingAndGlyphs" stroke="#000">8</text>
<text x="35.29" y="754.3" font-size="20" textLength="23.14" lengthAdjust="spacingAndGlyphs" stroke="#000">10</text>
<text x="35.55" y="707.78" font-size="20" textLength="23.14" lengthAdjust="spacingAndGlyphs" stroke="#000">12</text>
<text x="35.08" y="661.26" font-size="20" textLength="23.14" lengthAdjust="spacingAndGlyphs" stroke="#000">14</text>
<text x="35.4" y="614.74" font-size="20" textLength="23.14" lengthAdjust="spacingAndGlyphs" stroke="#000">16</text>
<text x="35.4" y="568.22" font-size="20" textLength="23.14" lengthAdjust="spacingAndGlyphs" stroke="#000">18</text>
<text x="72.17" y="1059.6" font-size="20" textLength="11.46" lengthAdjust="spacingAndGlyphs" stroke="#000">0</text>
<text x="110.45" y="1059.6" font-size="20" textLength="11.46" lengthAdjust="spacingAndGlyphs" stroke="#000">2</text>
<text x="148.72" y="1059.6" font-size="20" textLength="11.46" lengthAdjust="spacingAndGlyphs" stroke="#000">4</text>
<text x="186.99" y="1059.6" font-size="20" textLength="11.46" lengthAdjust="spacingAndGlyphs" stroke="#000">6</text>
<text x="225.27" y="1059.6" font-size="20" textLength="11.46" lengthAdjust="spacingAndGlyphs" stroke="#000">8</text>
<text x="257.81" y="1059.6" font-size="20" textLength="22.91" lengthAdjust="spacingAndGlyphs" stroke="#000">10</text>
<text x="296.09" y="1059.6" font-size="20" textLength="22.91" lengthAdjust="spacingAndGlyphs" stroke="#000">12</text>
<text x="334.36" y="1059.6" font-size="20" textLength="22.91" lengthAdjust="spacingAndGlyphs" stroke="#000">14</text>
<text x="372.63" y="1059.6" font-size="20" textLength="22.91" lengthAdjust="spacingAndGlyphs" stroke="#000">16</text>
<text x="410.91" y="1059.6" font-size="20" textLength="22.91" lengthAdjust="spacingAndGlyphs" stroke="#000">18</text>
<text x="449.18" y="1059.6" font-size="20" textLength="22.91" lengthAdjust="spacingAndGlyphs" stroke="#000">20</text>
<text x="487.46" y="1059.6" font-size="20" textLength="22.91" lengthAdjust="spacingAndGlyphs" stroke="#000">22</text>
<text x="525.73" y="1059.6" font-size="20" textLength="22.91" lengthAdjust="spacingAndGlyphs" stroke="#000">24</text>
<text x="564" y="1059.6" font-size="20" textLength="22.91" lengthAdjust="spacingAndGlyphs" stroke="#000">26</text>
<text x="602.28" y="1059.6" font-size="20" textLength="22.91" lengthAdjust="spacingAndGlyphs" stroke="#000">28</text>
<text x="640.55" y="1059.6" font-size="20" textLength="22.91" lengthAdjust="spacingAndGlyphs" stroke="#000">30</text>
<text x="-1.6" y="578.4" font-size="36.7" fill="#000" textLength="21.38" lengthAdjust="spacingAndGlyphs" stroke="#000">b</text>
<text transform="translate(16.8,880.63) rotate(-90)" font-size="14" fill="#000" textLength="15.35" lengthAdjust="spacingAndGlyphs">14</text>
<text transform="translate(24,864.8) rotate(-90)" font-size="23.5" fill="#000" textLength="17.29" lengthAdjust="spacingAndGlyphs" stroke="#000">C</text>
<text transform="translate(24,840.84) rotate(-90)" font-size="23.5" fill="#000" textLength="40.7" lengthAdjust="spacingAndGlyphs" stroke="#000">age</text>
<text transform="translate(24,793.74) rotate(-90)" font-size="23.5" fill="#000" textLength="59.64" lengthAdjust="spacingAndGlyphs" stroke="#000">offset</text>
<text transform="translate(20.2,724.22) rotate(-90)" font-size="21" fill="#000" textLength="7.54" lengthAdjust="spacingAndGlyphs" stroke="#000">(</text>
<text transform="translate(20.2,716.49) rotate(-90)" font-size="21" fill="#000" textLength="15.75" lengthAdjust="spacingAndGlyphs" stroke="#000">×</text>
<text transform="translate(20.2,701.88) rotate(-90)" font-size="21" fill="#000" textLength="21.97" lengthAdjust="spacingAndGlyphs" stroke="#000">10</text>
<text transform="translate(13.1,680.12) rotate(-90)" font-size="14" fill="#000" textLength="7.73" lengthAdjust="spacingAndGlyphs">3</text>
<text transform="translate(20.2,664.35) rotate(-90)" font-size="21" fill="#000" textLength="27.69" lengthAdjust="spacingAndGlyphs" stroke="#000">yrs</text>
<text transform="translate(20.2,635.96) rotate(-90)" font-size="21" fill="#000" textLength="6.91" lengthAdjust="spacingAndGlyphs" stroke="#000">)</text>
<text x="312.44" y="1087.3" font-size="21" fill="#000" textLength="135.2" lengthAdjust="spacingAndGlyphs" stroke="#000">Age (ka BP)</text>
<circle cx="107.4" cy="589.4" r="5.4" fill="#000" stroke="none" stroke-width="1"/>
<rect x="102.4" y="603.6" width="10" height="10" fill="#000" stroke="none" stroke-width="1"/>
<text x="121.12" y="596.9" font-size="16.5" fill="#000" textLength="191.74" lengthAdjust="spacingAndGlyphs" stroke="#000">TOC-Planktic foraminifera</text>
<text x="121.12" y="615.6" font-size="16.5" fill="#000" textLength="190.57" lengthAdjust="spacingAndGlyphs" stroke="#000">TOC-Benthic foraminifera</text>
<rect x="543.3" y="578.4" width="93.5" height="99.2" fill="#fff" stroke="#333" stroke-width="1"/>
<text x="546.97" y="598" font-size="16" fill="#2A52A8" textLength="50.64" lengthAdjust="spacingAndGlyphs" stroke="#2A52A8">U1314</text>
<text x="546.96" y="616" font-size="16" fill="#1E9A46" textLength="50.91" lengthAdjust="spacingAndGlyphs" stroke="#1E9A46">U1308</text>
<text x="546.96" y="633.8" font-size="16" fill="#E52B86" textLength="51.04" lengthAdjust="spacingAndGlyphs" stroke="#E52B86">U1302</text>
<text x="548.2" y="652.8" font-size="16" fill="#7A7A7A" textLength="84.31" lengthAdjust="spacingAndGlyphs" stroke="#7A7A7A">984+NEAP</text>
<text x="548.39" y="670.1" font-size="16" fill="#6B3535" textLength="46.48" lengthAdjust="spacingAndGlyphs" stroke="#6B3535">BOFS</text>
<text x="320.62" y="707" font-size="17" fill="#000" textLength="9.39" lengthAdjust="spacingAndGlyphs" class="ns">?</text>
<text x="466.15" y="752.8" font-size="17.5" fill="#000" textLength="10.43" lengthAdjust="spacingAndGlyphs" class="ns">?</text>
<text x="160.99" y="1022.2" font-size="14" fill="#000" textLength="62.04" lengthAdjust="spacingAndGlyphs">Holocene</text>
<text x="302.39" y="1022.2" font-size="14" fill="#000" textLength="19.05" lengthAdjust="spacingAndGlyphs">YD</text>
<text x="331.43" y="1022.2" font-size="14" fill="#000" textLength="18.89" lengthAdjust="spacingAndGlyphs">BA</text>
<text x="379.85" y="1022.2" font-size="14" fill="#000" textLength="27.01" lengthAdjust="spacingAndGlyphs">HS1</text>
<text x="454.22" y="1022.2" font-size="14" fill="#000" textLength="30.95" lengthAdjust="spacingAndGlyphs">LGM</text>
<text x="533.22" y="1022.2" font-size="14" fill="#000" textLength="27.91" lengthAdjust="spacingAndGlyphs">HS2</text>
<path id="cb" d="M402.5,673 C403,677 404.42,689.5 405.5,697 C406.58,704.5 407.87,710.83 409,718 C410.13,725.17 411.22,733.33 412.3,740 C413.38,746.67 414.42,752.33 415.5,758 C416.58,763.67 417.67,768.83 418.8,774 C419.93,779.17 420.97,783.83 422.3,789 C423.63,794.17 425.1,799.5 426.8,805 C428.5,810.5 430.55,816.67 432.5,822 C434.45,827.33 436.5,832.33 438.5,837 C440.5,841.67 443.5,847.83 444.5,850" fill="none"/>
<text font-size="20" fill="#DD1A78" stroke="#DD1A78"><textPath href="#cb">HEs-derived old OC</textPath></text>
</svg>
</body></html>
